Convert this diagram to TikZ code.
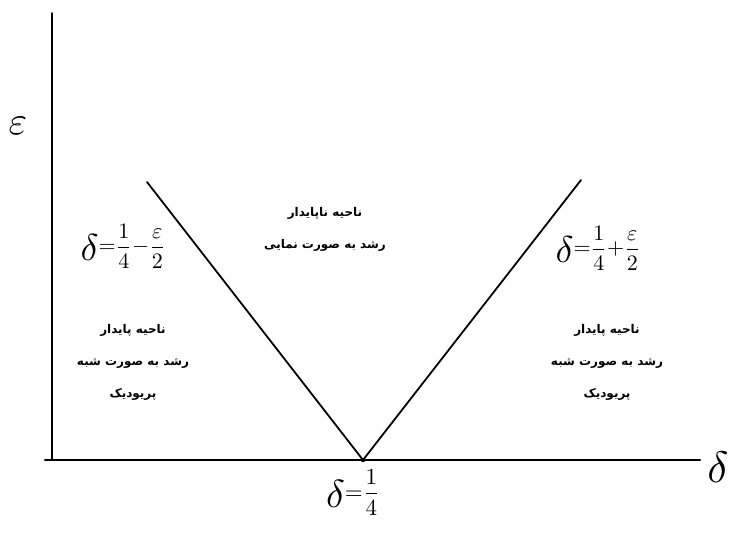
\documentclass[tikz,border=0pt]{standalone}
\usepackage{fontspec}
\usepackage{amsmath}
\newfontfamily\arabicfont[Script=Arabic]{DejaVu Sans}
\TeXXeTstate=1
\newcommand{\fa}[1]{\beginR #1\endR}
\newcommand{\bigdelta}{\vcenter{\hbox{\scalebox{1.7}{$\delta$}}}}
\begin{document}
\begin{tikzpicture}[x=1pt,y=-1pt,
  axis/.style={line width=2pt,line cap=round},
  vline/.style={line width=1.8pt,line cap=round},
  region/.style={font=\arabicfont\bfseries\fontsize{12}{32}\selectfont,align=center,inner sep=0pt},
  mathlbl/.style={inner sep=0pt}]
\useasboundingbox (0,0) rectangle (733,542);
% axes
\coordinate (ytop) at (52,13);
\coordinate (orig) at (52,460);
\coordinate (xend) at (700,460);
\coordinate (xstart) at (45,460);
\draw[axis] (ytop) -- (orig);
\draw[axis] (xstart) -- (xend);
% V lines
\coordinate (ltop) at (147,182);
\coordinate (vbot) at (363,460);
\coordinate (rtop) at (581,180);
\draw[vline] (ltop) -- (vbot) -- (rtop);
\fill (vbot) circle (2.2);
% axis labels
\node[mathlbl] (eps) at (18,126) {\scalebox{4}{$\varepsilon$}};
\node[mathlbl] (dax) at (718,467) {\scalebox{4.4}{$\delta$}};
\node[mathlbl,anchor=north] (dq) at (353,469) {\scalebox{2.3}{$\bigdelta{=}\dfrac{1}{4}$}};
\node[mathlbl] (lline) at (123,246) {\scalebox{2.2}{$\bigdelta{=}\dfrac{1}{4}{-}\dfrac{\varepsilon}{2}$}};
\node[mathlbl] (rline) at (598,248) {\scalebox{2.2}{$\bigdelta{=}\dfrac{1}{4}{+}\dfrac{\varepsilon}{2}$}};
% region texts
\node[region] (mid) at (325,229) {\fa{ناحیه ناپایدار}\\\fa{رشد به صورت نمایی}};
\node[region] (left) at (133,362) {\fa{ناحیه پایدار}\\\fa{رشد به صورت شبه}\\\fa{پریودیک}};
\node[region] (right) at (607,362) {\fa{ناحیه پایدار}\\\fa{رشد به صورت شبه}\\\fa{پریودیک}};
\end{tikzpicture}
\end{document}
